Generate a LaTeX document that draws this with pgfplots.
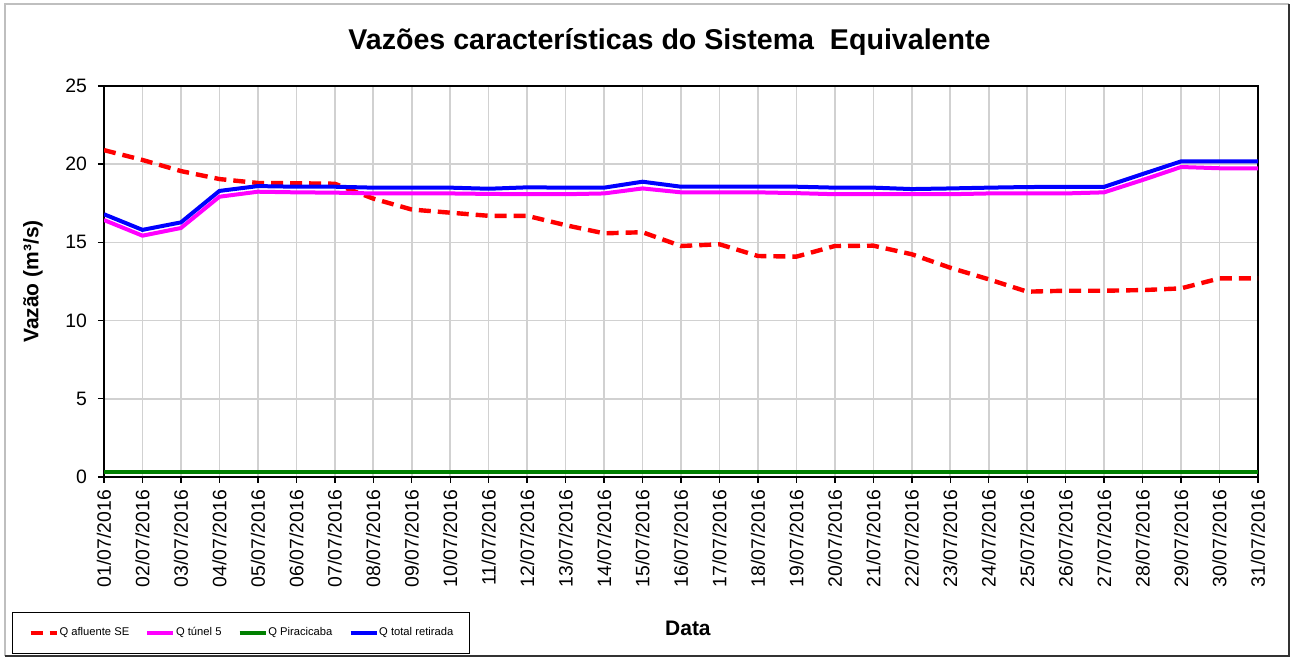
\documentclass[border=0pt]{standalone}
\usepackage{fontspec}
\setmainfont{Liberation Sans}
\usepackage{pgfplots}
\usepackage{pgfplotstable}
\pgfplotsset{compat=1.18}
\definecolor{cRed}{RGB}{255,0,0}
\definecolor{cMag}{RGB}{255,0,255}
\definecolor{cGreen}{RGB}{0,128,0}
\definecolor{cBlue}{RGB}{0,0,255}
\pgfplotstableread{
d af tun pir tot
1 20.9 16.43 0.35 16.8
2 20.27 15.43 0.35 15.8
3 19.56 15.92 0.35 16.28
4 19.05 17.92 0.35 18.29
5 18.8 18.24 0.35 18.6
6 18.78 18.2 0.35 18.56
7 18.75 18.18 0.35 18.56
8 17.8 18.13 0.35 18.5
9 17.1 18.13 0.35 18.5
10 16.9 18.13 0.35 18.5
11 16.7 18.1 0.35 18.43
12 16.7 18.08 0.35 18.52
13 16.1 18.08 0.35 18.5
14 15.58 18.13 0.35 18.5
15 15.65 18.45 0.35 18.88
16 14.77 18.2 0.35 18.56
17 14.88 18.2 0.35 18.56
18 14.13 18.2 0.35 18.56
19 14.09 18.15 0.35 18.56
20 14.77 18.08 0.35 18.5
21 14.79 18.08 0.35 18.5
22 14.24 18.08 0.35 18.41
23 13.38 18.08 0.35 18.45
24 12.64 18.13 0.35 18.5
25 11.85 18.13 0.35 18.54
26 11.91 18.13 0.35 18.55
27 11.91 18.2 0.35 18.55
28 11.95 18.99 0.35 19.37
29 12.06 19.82 0.35 20.18
30 12.7 19.74 0.35 20.18
31 12.7 19.74 0.35 20.18
}\data
\begin{document}
\begin{tikzpicture}[x=1pt,y=1pt]
\useasboundingbox (0,0) rectangle (645.5,329);
\draw[black!25, line width=0.6pt] (2.5,1) -- (2.5,327) -- (644.5,327);
\draw[black!80, line width=0.6pt] (644.5,327) -- (644.5,1) -- (2.5,1);
\begin{axis}[
  at={(52pt,90.5pt)}, anchor=south west,
  scale only axis, width=577pt, height=195.5pt,
  xmin=1, xmax=31, ymin=0, ymax=25,
  xtick={1,...,31}, ytick={0,5,...,25},
  xticklabels={01/07/2016,02/07/2016,03/07/2016,04/07/2016,05/07/2016,06/07/2016,07/07/2016,08/07/2016,09/07/2016,10/07/2016,11/07/2016,12/07/2016,13/07/2016,14/07/2016,15/07/2016,16/07/2016,17/07/2016,18/07/2016,19/07/2016,20/07/2016,21/07/2016,22/07/2016,23/07/2016,24/07/2016,25/07/2016,26/07/2016,27/07/2016,28/07/2016,29/07/2016,30/07/2016,31/07/2016},
  xtick pos=lower, ytick pos=left,
  tick align=outside, major tick length=3pt,
  tick style={black, line width=0.7pt},
  axis line style={black, line width=0.8pt},
  grid=major, grid style={black!18, line width=0.8pt},
  /pgf/number format/assume math mode=true,
  ticklabel style={font=\fontsize{9.7}{11}\selectfont},
  x tick label style={rotate=90, anchor=east},
  yticklabel style={xshift=-2pt},
  every axis title shift=0pt,
  title={Vazões características do Sistema\ \ Equivalente},
  title style={at={(axis description cs:0.49,1.1125)}, anchor=center, font=\bfseries\fontsize{14.3}{16}\selectfont},
  ylabel={Vazão (m³/s)},
  ylabel style={at={(axis description cs:-0.0615,0.5)}, anchor=center, font=\bfseries\fontsize{10.5}{12}\selectfont},
  xlabel={Data},
  xlabel style={at={(axis description cs:0.506,-0.386)}, anchor=center, font=\bfseries\fontsize{10.5}{12}\selectfont},
  legend columns=4,
  legend style={at={(axis description cs:-0.0797,-0.345)}, anchor=north west,
    draw=black, line width=0.5pt, inner xsep=8pt, inner ysep=5.5pt,
    column sep=0pt, font=\fontsize{5.6}{7}\selectfont,
    nodes={inner xsep=0.3pt},
    /tikz/every even column/.append style={column sep=7.8pt}},
  legend image code/.code={\draw[#1] (0pt,0pt) -- (13pt,0pt);},
]
\addplot[cRed, line width=2.2pt, dash pattern=on 6pt off 3.5pt] table[x=d,y=af]{\data};
\addlegendentry{Q afluente SE}
\addplot[cMag, line width=2pt] table[x=d,y=tun]{\data};
\addlegendentry{Q túnel 5}
\addplot[cGreen, line width=2pt] table[x=d,y=pir]{\data};
\addlegendentry{Q Piracicaba}
\addplot[cBlue, line width=2pt] table[x=d,y=tot]{\data};
\addlegendentry{Q total retirada}
\end{axis}
\end{tikzpicture}
\end{document}
